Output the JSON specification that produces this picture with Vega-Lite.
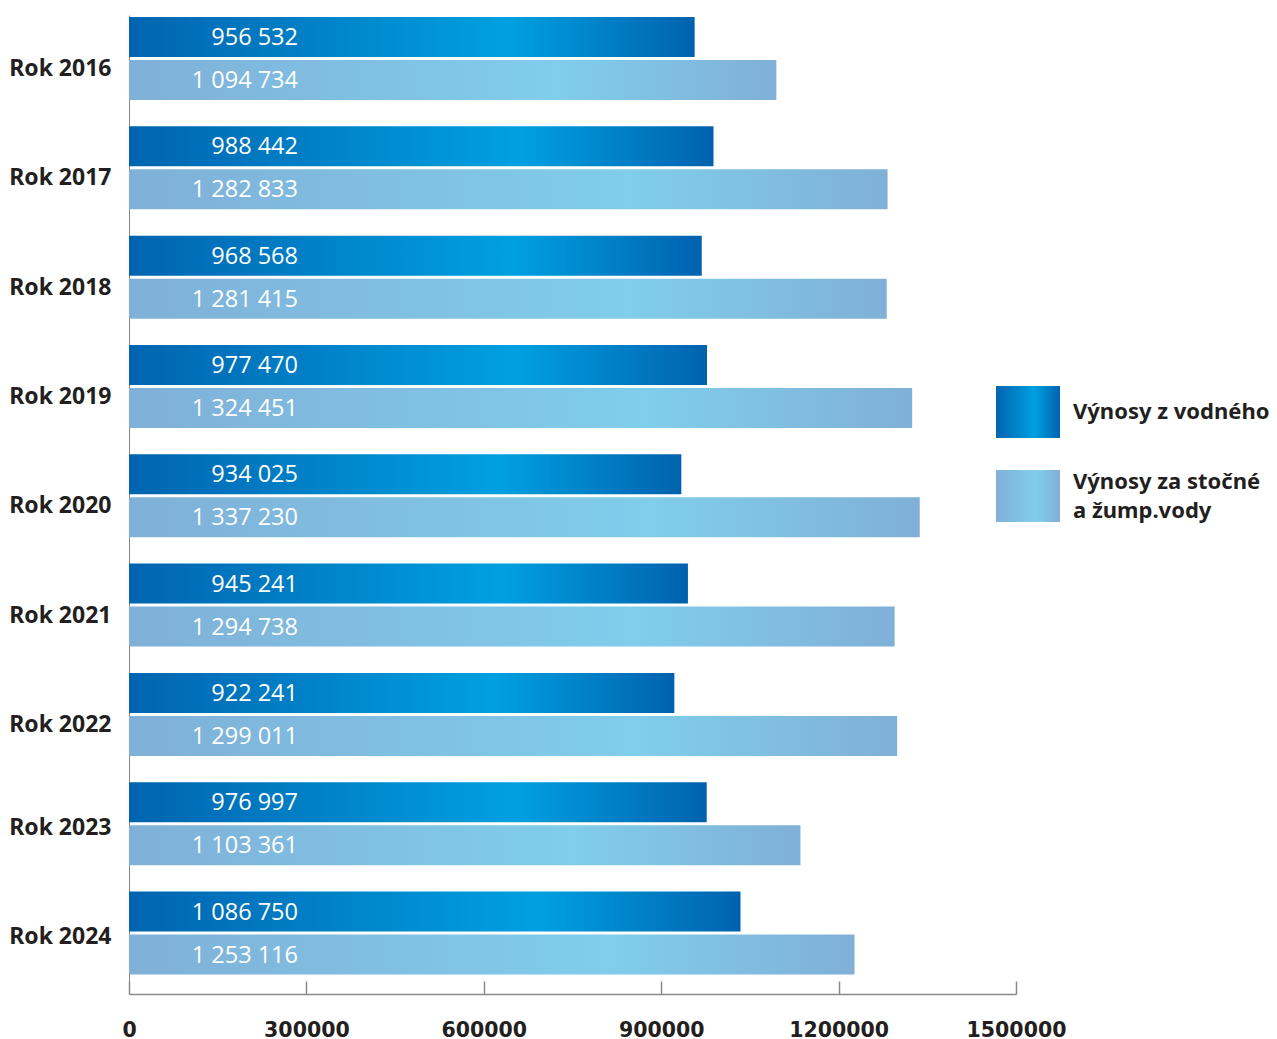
{
  "$schema": "https://vega.github.io/schema/vega-lite/v6.json",
  "width": 887,
  "height": 979,
  "autosize": "none",
  "padding": {"left": 129, "top": 15, "right": 261, "bottom": 45},
  "background": "white",
  "data": {
    "values": [
      {"year": "Rok 2016", "series": "Výnosy z vodného", "value": 956532, "label": "956 532"},
      {"year": "Rok 2016", "series": "Výnosy za stočné a žump.vody", "value": 1094734, "label": "1 094 734"},
      {"year": "Rok 2017", "series": "Výnosy z vodného", "value": 988442, "label": "988 442"},
      {"year": "Rok 2017", "series": "Výnosy za stočné a žump.vody", "value": 1282833, "label": "1 282 833"},
      {"year": "Rok 2018", "series": "Výnosy z vodného", "value": 968568, "label": "968 568"},
      {"year": "Rok 2018", "series": "Výnosy za stočné a žump.vody", "value": 1281415, "label": "1 281 415"},
      {"year": "Rok 2019", "series": "Výnosy z vodného", "value": 977470, "label": "977 470"},
      {"year": "Rok 2019", "series": "Výnosy za stočné a žump.vody", "value": 1324451, "label": "1 324 451"},
      {"year": "Rok 2020", "series": "Výnosy z vodného", "value": 934025, "label": "934 025"},
      {"year": "Rok 2020", "series": "Výnosy za stočné a žump.vody", "value": 1337230, "label": "1 337 230"},
      {"year": "Rok 2021", "series": "Výnosy z vodného", "value": 945241, "label": "945 241"},
      {"year": "Rok 2021", "series": "Výnosy za stočné a žump.vody", "value": 1294738, "label": "1 294 738"},
      {"year": "Rok 2022", "series": "Výnosy z vodného", "value": 922241, "label": "922 241"},
      {"year": "Rok 2022", "series": "Výnosy za stočné a žump.vody", "value": 1299011, "label": "1 299 011"},
      {"year": "Rok 2023", "series": "Výnosy z vodného", "value": 976997, "label": "976 997"},
      {"year": "Rok 2023", "series": "Výnosy za stočné a žump.vody", "value": 1135500, "label": "1 103 361"},
      {"year": "Rok 2024", "series": "Výnosy z vodného", "value": 1034100, "label": "1 086 750"},
      {"year": "Rok 2024", "series": "Výnosy za stočné a žump.vody", "value": 1226900, "label": "1 253 116"}
    ]
  },
  "encoding": {
    "y": {
      "field": "year",
      "type": "nominal",
      "sort": null,
      "scale": {"paddingInner": 0.2407, "paddingOuter": 0.0983, "align": 0.093},
      "axis": {
        "title": null,
        "ticks": false,
        "domainColor": "#8a8a8a",
        "domainWidth": 1,
        "labelFont": "Noto Sans",
        "labelFontWeight": "bold",
        "labelFontSize": 23,
        "labelColor": "#231f20",
        "labelPadding": 18,
        "labelLimit": 200,
        "labelOffset": {"condition": {"test": "datum.value == 'Rok 2023' || datum.value == 'Rok 2024'", "value": 4}, "value": 10.5}
      }
    },
    "yOffset": {
      "field": "series",
      "type": "nominal",
      "sort": ["Výnosy z vodného", "Výnosy za stočné a žump.vody"],
      "scale": {"paddingInner": 0.0698, "paddingOuter": 0}
    },
    "x": {
      "field": "value",
      "type": "quantitative",
      "scale": {"domain": [0, 1500000], "nice": false, "zero": true},
      "axis": {
        "title": null,
        "values": [0, 300000, 600000, 900000, 1200000, 1500000],
        "format": "d",
        "grid": false,
        "domainColor": "#8a8a8a",
        "domainWidth": 1.5,
        "tickColor": "#8a8a8a",
        "tickWidth": 1.5,
        "tickSize": -13,
        "labelFont": "DejaVu Sans",
        "labelFontWeight": "bold",
        "labelFontSize": 20.5,
        "labelColor": "#231f20",
        "labelPadding": 39,
        "labelFlush": false,
        "labelOverlap": false
      }
    }
  },
  "layer": [
    {
      "mark": {"type": "bar", "strokeWidth": 0},
      "encoding": {
        "fill": {
          "condition": {
            "test": "datum.series == 'Výnosy z vodného'",
            "value": {"gradient": "linear", "x1": 0, "y1": 0, "x2": 1, "y2": 0, "stops": [
              {"offset": 0, "color": "#0064b0"},
              {"offset": 0.67, "color": "#00a0e0"},
              {"offset": 1, "color": "#0062af"}
            ]}
          },
          "value": {"gradient": "linear", "x1": 0, "y1": 0, "x2": 1, "y2": 0, "stops": [
            {"offset": 0, "color": "#80b0d8"},
            {"offset": 0.66, "color": "#80cdec"},
            {"offset": 1, "color": "#80b0d8"}
          ]}
        }
      }
    },
    {
      "mark": {"type": "text", "align": "right", "baseline": "middle", "dx": 169, "dy": 1, "color": "white", "font": "Open Sans", "fontSize": 23.5},
      "encoding": {
        "x": {"datum": 0, "type": "quantitative"},
        "text": {"field": "label"}
      }
    },
    {
      "transform": [{"filter": "datum.series == 'Výnosy z vodného'"}],
      "mark": {
        "type": "point",
        "filled": true,
        "opacity": 0,
        "strokeWidth": 0,
        "fill": {"gradient": "linear", "x1": 0, "y1": 0, "x2": 1, "y2": 0, "stops": [
          {"offset": 0, "color": "#0064b0"},
          {"offset": 0.6, "color": "#00a0e0"},
          {"offset": 1, "color": "#0062af"}
        ]}
      },
      "encoding": {
        "shape": {
          "field": "series",
          "type": "nominal",
          "scale": {"domain": ["Výnosy z vodného"], "range": ["M-1,-0.8125H1V0.8125H-1Z"]},
          "legend": {
            "title": null,
            "orient": "none",
            "legendX": 867,
            "legendY": 365,
            "padding": 0,
            "symbolSize": 4096,
            "symbolStrokeWidth": 0,
            "symbolOpacity": 1,
            "labelFont": "Noto Sans",
            "labelFontWeight": "bold",
            "labelFontSize": 22,
            "labelColor": "#231f20",
            "labelOffset": 13,
            "labelLimit": 300
          }
        }
      }
    },
    {
      "transform": [{"filter": "datum.series == 'Výnosy za stočné a žump.vody'"}],
      "mark": {
        "type": "point",
        "filled": true,
        "opacity": 0,
        "strokeWidth": 0,
        "fill": {"gradient": "linear", "x1": 0, "y1": 0, "x2": 1, "y2": 0, "stops": [
          {"offset": 0, "color": "#80b0d8"},
          {"offset": 0.62, "color": "#80cdec"},
          {"offset": 1, "color": "#80b0d8"}
        ]}
      },
      "encoding": {
        "shape": {
          "field": "series",
          "type": "nominal",
          "scale": {"domain": ["Výnosy za stočné a žump.vody"], "range": ["M-1,-0.3594H1V1.2656H-1Z"]},
          "legend": {
            "title": null,
            "orient": "none",
            "legendX": 867,
            "legendY": 434.5,
            "padding": 0,
            "symbolSize": 4096,
            "symbolStrokeWidth": 0,
            "symbolOpacity": 1,
            "labelFont": "Noto Sans",
            "labelFontWeight": "bold",
            "labelFontSize": 22,
            "labelColor": "#231f20",
            "labelOffset": 13,
            "labelLimit": 300,
            "labelExpr": "['Výnosy za stočné', 'a žump.vody']"
          }
        }
      }
    }
  ],
  "resolve": {"scale": {"shape": "independent"}, "legend": {"shape": "independent"}},
  "config": {"view": {"stroke": null}, "style": {"guide-label": {"lineHeight": 29}}}
}
